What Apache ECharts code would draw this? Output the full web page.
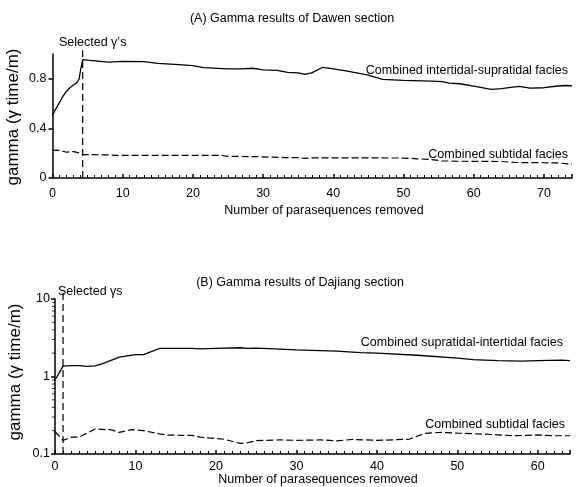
<!DOCTYPE html>
<html>
<head>
<meta charset="utf-8">
<script src="https://cdn.jsdelivr.net/npm/echarts@6/dist/echarts.min.js"></script>
<style>
  html, body { margin: 0; padding: 0; background: #fff; }
  #chart { width: 577px; height: 487px; }
</style>
</head>
<body>
<div id="chart"></div>
<script>
// Panel A: Dawen section (linear gamma axis)
const dawenUpper = [
  [0, 0.507], [0.5, 0.56], [1, 0.61], [1.5, 0.66], [2, 0.70], [2.5, 0.73], [3, 0.75],
  [3.5, 0.77], [3.8, 0.80], [4.0, 0.87], [4.3, 0.955], [5, 0.950], [6, 0.945], [8, 0.935],
  [10, 0.941], [13, 0.938], [15, 0.925], [18, 0.915], [20, 0.907], [21.5, 0.89], [25, 0.88],
  [27, 0.88], [28.5, 0.885], [30, 0.872], [32, 0.868], [33.5, 0.852], [35, 0.848], [36, 0.835],
  [37, 0.85], [38.5, 0.893], [40, 0.88], [42, 0.862], [45, 0.83], [47, 0.795], [50, 0.787],
  [54, 0.782], [55.5, 0.778], [56.5, 0.765], [58, 0.76], [60, 0.741], [62.5, 0.715], [64, 0.72],
  [65, 0.728], [66.5, 0.739], [68, 0.725], [70, 0.728], [72, 0.742], [73, 0.746], [74, 0.744]
];
const dawenSubtidal = [
  [0, 0.225], [1, 0.222], [2, 0.208], [3, 0.213], [3.8, 0.202], [4.3, 0.188], [6, 0.188],
  [8, 0.186], [9, 0.182], [15, 0.182], [24, 0.182], [25, 0.175], [29, 0.172], [31, 0.168],
  [33, 0.165], [35, 0.164], [36, 0.158], [37, 0.162], [45, 0.162], [50, 0.161], [52, 0.155],
  [54, 0.148], [55.5, 0.138], [58, 0.135], [64, 0.133], [66, 0.125], [72, 0.122], [73.5, 0.113],
  [74, 0.112]
];
const dawenSelected = [[4.3, 0], [4.3, 1.03]];

// Panel B: Dajiang section (log gamma axis)
const dajiangUpper = [
  [0, 0.9], [1, 1.36], [2, 1.38], [3, 1.38], [4, 1.35], [5, 1.37], [6, 1.48], [8, 1.78],
  [10, 1.92], [11, 1.92], [13, 2.3], [17, 2.3], [18, 2.27], [20, 2.3], [23, 2.35], [24, 2.3],
  [25, 2.32], [28, 2.25], [30, 2.2], [35, 2.12], [38, 2.03], [40, 2.0], [45, 1.88], [50, 1.73],
  [52, 1.65], [55, 1.6], [58, 1.58], [60, 1.6], [63, 1.63], [64, 1.6]
];
const dajiangSubtidal = [
  [0, 0.195], [1, 0.150], [2, 0.165], [3, 0.165], [5, 0.210], [7, 0.205], [8, 0.190],
  [9.5, 0.206], [11, 0.200], [13, 0.182], [14, 0.175], [17, 0.174], [18, 0.165], [21, 0.155],
  [23, 0.137], [24, 0.140], [25, 0.149], [28, 0.152], [30, 0.150], [33, 0.152], [35, 0.148],
  [37, 0.154], [40, 0.150], [44, 0.155], [46, 0.185], [48, 0.190], [50, 0.186], [52, 0.183],
  [55, 0.177], [57, 0.172], [60, 0.176], [62, 0.172], [64, 0.172]
];
const dajiangSelected = [[1, 0.1], [1, 13]];
// minor tick positions of the log axis (2..9 per decade)
const logMinor = [0.2, 0.3, 0.4, 0.5, 0.6, 0.7, 0.8, 0.9, 2, 3, 4, 5, 6, 7, 8, 9];

const FONT = 'Liberation Sans';
const FS = 12.5;
const ink = '#000';

const chart = echarts.init(document.getElementById('chart'));

function xAxisCfg(gridIndex, max, margin) {
  return {
    type: 'value', gridIndex, min: 0, max, interval: 10,
    axisLine: { lineStyle: { color: ink, width: 1.5 } },
    axisTick: { inside: true, length: 4, lineStyle: { color: ink, width: 1.5 } },
    minorTick: { show: true, splitNumber: 10, length: 3, lineStyle: { color: ink, width: 1 } },
    axisLabel: { fontFamily: FONT, fontSize: FS, color: ink, margin, showMaxLabel: false },
    splitLine: { show: false }
  };
}

function text(x, y, str, align, extra) {
  return Object.assign({
    type: 'text', x, y, silent: true,
    style: { text: str, fontFamily: FONT, fontSize: FS, fill: ink, align: align || 'center', verticalAlign: 'middle' }
  }, extra || {});
}

chart.setOption({
  animation: false,
  backgroundColor: '#fff',
  grid: [
    { left: 52.5, top: 54, width: 519.5, height: 124, outerBoundsMode: 'none', containLabel: false },
    { left: 55, top: 299, width: 515, height: 155, outerBoundsMode: 'none', containLabel: false }
  ],
  xAxis: [xAxisCfg(0, 74, 9), xAxisCfg(1, 64, 6)],
  yAxis: [
    {
      type: 'value', gridIndex: 0, min: 0, max: 1.0, interval: 0.4,
      axisLine: { show: true, lineStyle: { color: ink, width: 1.5 } },
      axisTick: { inside: false, length: 4, lineStyle: { color: ink, width: 1.5 } },
      axisLabel: { fontFamily: FONT, fontSize: FS, color: ink, margin: 6, showMaxLabel: false,
        formatter: v => (v === 0 ? '0' : v.toFixed(1)) },
      splitLine: { show: false }
    },
    {
      type: 'log', gridIndex: 1, min: 0.1, max: 10, logBase: 10,
      axisLine: { show: true, lineStyle: { color: ink, width: 1.5 } },
      axisTick: { inside: false, length: 4, lineStyle: { color: ink, width: 1.5 } },
      axisLabel: { fontFamily: FONT, fontSize: FS, color: ink, margin: 5,
        formatter: v => String(+v.toPrecision(3)) },
      splitLine: { show: false }
    }
  ],
  series: [
    { type: 'line', xAxisIndex: 0, yAxisIndex: 0, data: dawenUpper, showSymbol: false,
      lineStyle: { color: ink, width: 1.3 } },
    { type: 'line', xAxisIndex: 0, yAxisIndex: 0, data: dawenSubtidal, showSymbol: false,
      lineStyle: { color: ink, width: 1.2, type: [7, 3] } },
    { type: 'line', xAxisIndex: 0, yAxisIndex: 0, data: dawenSelected, showSymbol: false, clip: false,
      lineStyle: { color: ink, width: 1.2, type: [7, 4] } },
    { type: 'line', xAxisIndex: 1, yAxisIndex: 1, data: dajiangUpper, showSymbol: false,
      lineStyle: { color: ink, width: 1.3 } },
    { type: 'line', xAxisIndex: 1, yAxisIndex: 1, data: dajiangSubtidal, showSymbol: false,
      lineStyle: { color: ink, width: 1.2, type: [7, 3] } },
    { type: 'line', xAxisIndex: 1, yAxisIndex: 1, data: dajiangSelected, showSymbol: false, clip: false,
      lineStyle: { color: ink, width: 1.2, type: [7, 4] } },
    // log-axis minor ticks, placed through the axis scale
    { type: 'scatter', xAxisIndex: 1, yAxisIndex: 1, clip: false, silent: true,
      data: logMinor.map(v => [0, v]), symbol: 'rect', symbolSize: [3, 1], symbolOffset: [-1.5, 0],
      itemStyle: { color: ink } }
  ],
  graphic: [
    // panel A
    text(292, 19, '(A) Gamma results of Dawen section'),
    text(59, 43, 'Selected \u03b3\u2019s', 'left'),
    text(568, 71, 'Combined intertidal-supratidal facies', 'right'),
    text(568, 155, 'Combined subtidal facies', 'right'),
    text(324, 211, 'Number of parasequences removed'),
    text(13, 117, 'gamma (\u03b3 time/m)', 'center', { rotation: Math.PI / 2,
      style: { text: 'gamma (\u03b3 time/m)', fontFamily: FONT, fontSize: 17, fill: ink, align: 'center', verticalAlign: 'middle' } }),
    // panel B
    text(300, 283, '(B) Gamma results of Dajiang section'),
    text(58, 292, 'Selected \u03b3s', 'left'),
    text(563, 343, 'Combined supratidal-intertidal facies', 'right'),
    text(565, 425, 'Combined subtidal facies', 'right'),
    text(318, 480, 'Number of parasequences removed'),
    text(15, 372, 'gamma (\u03b3 time/m)', 'center', { rotation: Math.PI / 2,
      style: { text: 'gamma (\u03b3 time/m)', fontFamily: FONT, fontSize: 17, fill: ink, align: 'center', verticalAlign: 'middle' } })
  ]
});
</script>
</body>
</html>
